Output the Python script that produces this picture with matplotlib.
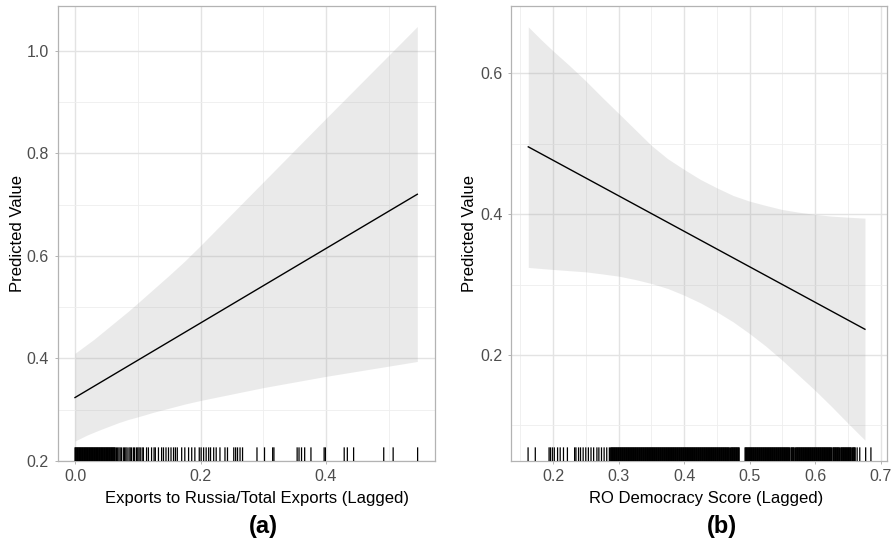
import matplotlib
matplotlib.use("Agg")
import matplotlib.pyplot as plt

# ---------------- data ----------------
# Panel (a): Exports to Russia / Total Exports (Lagged)
exp_line_x = [0.0, 0.5455]
exp_line_y = [0.3237, 0.7200]
exp_band_x = [0.0, 0.01, 0.02, 0.03, 0.04, 0.055, 0.07, 0.085, 0.10, 0.125,
              0.15, 0.175, 0.20, 0.30, 0.40, 0.5455]
exp_upper = [0.410, 0.419, 0.428, 0.437, 0.447, 0.462, 0.477, 0.492, 0.508, 0.535,
             0.562, 0.590, 0.620, 0.744, 0.868, 1.047]
exp_lower = [0.239, 0.245, 0.251, 0.256, 0.261, 0.268, 0.275, 0.281, 0.286, 0.295,
             0.303, 0.311, 0.318, 0.343, 0.365, 0.394]
# rug positions, in thousandths of the x variable
exp_rug_permille = [
    0, 1, 2, 3, 4, 5, 6, 7, 8, 9, 10, 11, 12, 13, 14, 15, 16, 17, 18, 19,
    20, 21, 22, 23, 24, 25, 26, 27, 28, 29, 30, 31, 32, 33, 34, 35, 36, 37, 38, 39,
    40, 41, 42, 43, 44, 45, 46, 47, 48, 49, 50, 51, 52, 53, 54, 55, 56, 57, 58, 59,
    60, 61, 62, 63, 64,
    66, 68, 70, 72, 74, 77, 79, 81, 83, 86, 88, 90, 93, 95, 98, 100, 102, 104, 107, 109,
    114, 117, 122, 126, 128, 133, 138, 141, 145, 149, 153, 157, 160, 163, 170, 175,
    181, 186, 191, 198, 201, 205, 209, 213, 216, 221, 225, 231, 239, 243,
    253, 256, 259, 263, 267, 290, 302, 315, 317, 354, 357, 361, 366, 376, 397, 399,
    429, 434, 444, 492, 507, 546,
]

# Panel (b): RO Democracy Score (Lagged)
dem_line_x = [0.1623, 0.6759]
dem_line_y = [0.4956, 0.2365]
dem_upper_x = [0.1623, 0.1817, 0.2005, 0.2249, 0.2504, 0.2758, 0.3003, 0.3252,
               0.3501, 0.3751, 0.4000, 0.4249, 0.4499, 0.4748, 0.4997, 0.5247,
               0.5496, 0.5746, 0.5995, 0.6244, 0.6494, 0.6759]
dem_upper = [0.666, 0.648, 0.6315, 0.6112, 0.5889, 0.5652, 0.543, 0.5203,
             0.4976, 0.4786, 0.4635, 0.4493, 0.4374, 0.4265, 0.4185, 0.4123,
             0.4066, 0.4028, 0.3996, 0.3972, 0.3957, 0.3943]
dem_lower = [0.3243, 0.3228, 0.3214, 0.3197, 0.318, 0.315, 0.3119, 0.3072,
             0.3015, 0.2944, 0.2849, 0.274, 0.2612, 0.247, 0.2305, 0.2125,
             0.1926, 0.1713, 0.150, 0.1273, 0.1036, 0.079]
dem_rug_permille = [
    162, 173, 194, 196, 199, 202, 207, 211, 216, 222,
    233, 235, 239, 242, 246, 250, 254, 258, 262, 267, 270, 274, 278, 282, 286,
    288, 289, 290, 291, 292, 293, 294, 295, 296, 297, 298, 299,
    300, 301, 302, 303, 304, 305, 306, 307, 308, 309, 310, 311, 312, 313, 314, 315,
    316, 317, 318, 319, 320, 321, 322, 323, 324, 325, 326, 327, 328, 329, 330, 331,
    332, 333, 334, 335, 336, 337, 338, 339, 340, 341, 342, 343, 344, 345, 346, 347,
    348, 349, 350, 351, 352, 353, 354, 355, 356, 357, 358, 359, 360, 361, 362, 363,
    364, 365, 366, 367, 368, 369, 370, 371, 372, 373, 374, 375, 376, 377, 378, 379,
    380, 381, 382, 383, 384, 385, 386, 387, 388, 389, 390, 391, 392, 393, 394, 395,
    396, 397, 398, 399, 400, 401, 402, 403, 404, 405, 406, 407, 408, 409, 410, 411,
    412, 413, 414, 415, 416, 417, 418, 419, 420, 421, 422, 423, 424, 425, 426, 427,
    428, 429, 430, 431, 432, 433, 434, 435, 436, 437, 438, 439, 440, 441, 442, 443,
    444, 445, 446, 447, 448, 449, 450, 451, 452, 453, 454, 455, 456, 457, 458, 459,
    460, 461, 462, 463, 464, 465, 466, 467, 468, 469, 471, 472, 473, 474, 475,
    476, 477, 478, 479, 480, 481, 482, 483, 484,
    493, 494, 495, 496, 497, 498, 499, 500, 501, 502, 503, 504, 505, 506, 507,
    508, 509, 510, 511, 512, 513, 514, 515, 516, 517, 518, 519, 520, 521, 522, 523,
    524, 525, 526, 527, 528, 529, 530, 531, 532, 533, 534, 535, 536, 537, 538, 539,
    540, 541, 542, 543, 544, 545, 546, 547, 548, 549, 550, 551, 552, 553, 554, 555,
    556, 557, 558, 559, 560, 561, 563, 564, 565, 566, 567, 568, 570, 571,
    572, 573, 574, 575, 576, 577, 578, 579, 580, 581, 582, 583, 584, 585, 586, 587,
    588, 589, 590, 591, 592, 593, 594, 595, 596, 597, 598, 599, 600, 601, 602, 603,
    604, 605, 606, 607, 608, 609, 610, 611, 612, 613, 614, 615, 616, 617, 618, 619,
    620, 621, 622, 623, 624, 625, 627, 628, 629, 630, 631, 632, 633, 634, 635,
    636, 637, 639, 640, 641, 642, 643, 644, 645, 646, 647, 648, 649, 650, 651,
    652, 653, 654, 655, 657, 658, 659, 660, 661,
    664, 668, 677, 685,
]

exp_xticks = [0.0, 0.2, 0.4]
exp_yticks = [0.2, 0.4, 0.6, 0.8, 1.0]
dem_xticks = [0.2, 0.3, 0.4, 0.5, 0.6, 0.7]
dem_yticks = [0.2, 0.4, 0.6]

xlabel_a = "Exports to Russia/Total Exports (Lagged)"
xlabel_b = "RO Democracy Score (Lagged)"
ylabel = "Predicted Value"

# ---------------- style ----------------
plt.rcParams['font.family'] = ['Liberation Sans', 'DejaVu Sans']
W, H = 893, 541
fig = plt.figure(figsize=(W / 100, H / 100), dpi=100)

BORDER = '#B3B3B3'
MAJOR = '#E3E3E3'
MINOR = '#EEEEEE'
TICKLAB = '#4D4D4D'


def px_rect(x0, y0, x1, y1):
    return [x0 / W, 1 - y1 / H, (x1 - x0) / W, (y1 - y0) / H]


def setup(ax, xlim, ylim, xticks, yticks, xminor, yminor):
    ax.set_xlim(*xlim)
    ax.set_ylim(*ylim)
    ax.set_xticks(xticks)
    ax.set_yticks(yticks)
    ax.set_xticks(xminor, minor=True)
    ax.set_yticks(yminor, minor=True)
    ax.set_xticklabels([f"{t:.1f}" for t in xticks])
    ax.set_yticklabels([f"{t:.1f}" for t in yticks])
    ax.grid(True, which='major', color=MAJOR, lw=1.0, zorder=0)
    ax.grid(True, which='minor', color=MINOR, lw=0.6, zorder=0)
    ax.set_axisbelow(True)
    for s in ax.spines.values():
        s.set_color(BORDER)
        s.set_linewidth(0.9)
    ax.tick_params(which='major', length=2.5, width=0.7, color=BORDER,
                   labelsize=11.5, labelcolor=TICKLAB)
    ax.tick_params(axis='x', which='major', pad=3.5)
    ax.tick_params(axis='y', which='major', pad=4)
    ax.tick_params(which='minor', length=0)


def rug(ax, permille):
    values = [v / 1000 for v in permille]
    lc = ax.vlines(values, 0, 0.03, transform=ax.get_xaxis_transform(),
                   color='black', lw=0.9, zorder=4)
    lc.set_snap(False)


# Panel (a)
ax1 = fig.add_axes(px_rect(58, 6, 435, 461))
setup(ax1, (-0.0271, 0.5737), (0.2, 1.087), exp_xticks, exp_yticks,
      [0.1, 0.3, 0.5], [0.3, 0.5, 0.7, 0.9])
ax1.fill_between(exp_band_x, exp_lower, exp_upper, color='#999999', alpha=0.2,
                 lw=0, zorder=2)
ax1.plot(exp_line_x, exp_line_y, color='black', lw=1.0, zorder=3)
rug(ax1, exp_rug_permille)

# Panel (b)
ax2 = fig.add_axes(px_rect(511.3, 6, 887.3, 461))
setup(ax2, (0.1364, 0.710), (0.0494, 0.6956), dem_xticks, dem_yticks,
      [0.15, 0.25, 0.35, 0.45, 0.55, 0.65], [0.1, 0.3, 0.5])
ax2.fill_between(dem_upper_x, dem_lower, dem_upper, color='#999999', alpha=0.2,
                 lw=0, zorder=2)
ax2.plot(dem_line_x, dem_line_y, color='black', lw=1.0, zorder=3)
rug(ax2, dem_rug_permille)

# labels
fig.text(257 / W, 1 - 499 / H, xlabel_a, ha='center', va='center', fontsize=12)
fig.text(706.5 / W, 1 - 499 / H, xlabel_b, ha='center', va='center', fontsize=12)
fig.text(18 / W, 1 - 234 / H, ylabel, rotation=90, ha='center', va='center', fontsize=12)
fig.text(469 / W, 1 - 234 / H, ylabel, rotation=90, ha='center', va='center', fontsize=12)
fig.text(263 / W, 1 - 526 / H, "(a)", ha='center', va='center', fontsize=17, fontweight='bold')
fig.text(722 / W, 1 - 526 / H, "(b)", ha='center', va='center', fontsize=17, fontweight='bold')

fig.savefig("out.png", dpi=100)
